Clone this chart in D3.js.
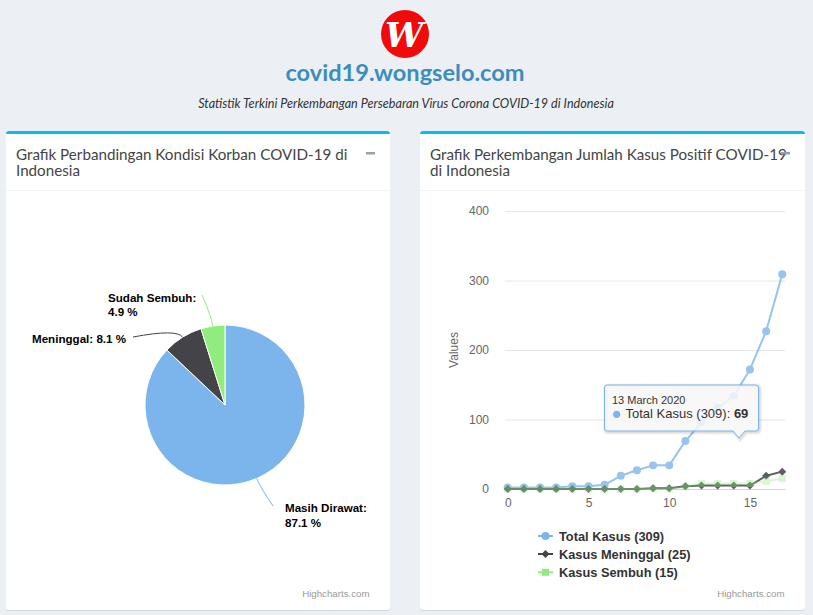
<!DOCTYPE html>
<html><head><meta charset="utf-8">
<script src="https://cdn.jsdelivr.net/npm/d3@7"></script>
<style>
html,body{margin:0;padding:0;background:#ecf0f5;}
svg{display:block;}
</style></head><body>
<svg id="c" width="813" height="615"></svg>
<script>
// ---------- DATA ----------
const dayIndex = [0,1,2,3,4,5,6,7,8,9,10,11,12,13,14,15,16,17];
const dayLabels = ["2 March 2020","3 March 2020","4 March 2020","5 March 2020","6 March 2020","7 March 2020",
  "8 March 2020","9 March 2020","10 March 2020","11 March 2020","12 March 2020","13 March 2020",
  "14 March 2020","15 March 2020","16 March 2020","17 March 2020","18 March 2020","19 March 2020"];
const totalKasus     = [2,2,2,2,4,4,6,19,27,34,34,69,96,117,134,172,227,309];
const kasusMeninggal = [0,0,0,0,0,0,0,0,0,1,1,4,5,5,5,5,19,25];
const kasusSembuh    = [0,0,0,0,0,0,0,0,0,0,0,3,8,8,8,8,11,15];
const seriesNames = ["Total Kasus","Kasus Meninggal","Kasus Sembuh"];
const pieLabels = ["Masih Dirawat","Meninggal","Sudah Sembuh"];
const pieValues = [269,25,15];
const yTicks = [0,100,200,300,400];
const xTicks = [0,5,10,15];
const pageTitle = "covid19.wongselo.com";
const pageSubtitle = "Statistik Terkini Perkembangan Persebaran Virus Corona COVID-19 di Indonesia";
const panelTitles = [["Grafik Perbandingan Kondisi Korban COVID-19 di","Indonesia"],
                     ["Grafik Perkembangan Jumlah Kasus Positif COVID-19","di Indonesia"]];
const yAxisTitle = "Values";
const creditText = "Highcharts.com";
const hoverIndex = 11;

// ---------- DRAWING ----------
const svg = d3.select("#c");
const HC = "'Liberation Sans', Arial, sans-serif";
const colors = ["#7cb5ec","#434348","#90ed7d"];

// header
svg.append("circle").attr("cx",405).attr("cy",34).attr("r",24).attr("fill","#f20a0a");
svg.append("text").attr("x",404).attr("y",47).attr("text-anchor","middle")
  .attr("font-family","'DejaVu Serif', serif").attr("font-style","italic").attr("font-weight","bold")
  .attr("font-size",34).attr("fill","#fff").text("W");
svg.append("text").attr("x",405).attr("y",81).attr("text-anchor","middle")
  .attr("font-family","Lato, sans-serif").attr("font-weight","bold").attr("font-size",23.6)
  .attr("fill","#3c8dbc").text(pageTitle);
svg.append("text").attr("x",406).attr("y",108).attr("text-anchor","middle")
  .attr("font-family","Lato, sans-serif").attr("font-style","italic").attr("font-size",12.6)
  .attr("fill","#333").text(pageSubtitle);

// panels
const defs = svg.append("defs");
function panel(i, x, w){
  const y0 = 131, h = 479;
  defs.append("clipPath").attr("id","pc"+i).append("rect")
    .attr("x",x).attr("y",y0).attr("width",w).attr("height",h).attr("rx",3);
  svg.append("rect").attr("x",x).attr("y",y0+1).attr("width",w).attr("height",h).attr("rx",3)
    .attr("fill","rgba(0,0,0,0.10)");
  const g = svg.append("g").attr("clip-path","url(#pc"+i+")");
  g.append("rect").attr("x",x).attr("y",y0).attr("width",w).attr("height",h).attr("fill","#fff");
  g.append("rect").attr("x",x).attr("y",y0).attr("width",w).attr("height",3).attr("fill","#00c0ef");
  svg.append("line").attr("x1",x).attr("x2",x+w).attr("y1",190.5).attr("y2",190.5)
    .attr("stroke","#f4f4f4");
  const t = svg.append("text").attr("font-family","Lato, sans-serif").attr("font-size",15.2)
    .attr("fill","#444");
  panelTitles[i].forEach((s,k)=>{
    t.append("tspan").attr("x",x+10).attr("y",160+k*16).text(s);
  });
  svg.append("rect").attr("x",x+w-24).attr("y",152).attr("width",9).attr("height",2.5)
    .attr("fill","#97a0b3");
  svg.append("text").attr("x",x+w-20.5).attr("y",597).attr("text-anchor","end")
    .attr("font-family",HC).attr("font-size",9.7).attr("fill","#999").text(creditText);
}
panel(0, 6, 384);
panel(1, 420, 385);

// ---------- PIE ----------
const cx = 225, cy = 405, R = 80;
const total = d3.sum(pieValues);
const arcs = d3.pie().sort(null).value(d=>d)(pieValues);
const arcGen = d3.arc().innerRadius(0).outerRadius(R);
const pg = svg.append("g").attr("transform",`translate(${cx},${cy})`);
pg.selectAll("path.slice").data(arcs).join("path").attr("class","slice")
  .attr("d",arcGen).attr("fill",(d,i)=>colors[i]).attr("stroke","#fff").attr("stroke-width",1)
  .attr("stroke-linejoin","round");

// label placement (layout)
const labelAnchor = [[273-cx,506-cy],[133-cx,337-cy],[202-cx,295-cy]];
const labelLines = [[[285,512.3],[285,526.7]], [[32,343.3]], [[108,301.7],[108,316]]];
arcs.forEach((a,i)=>{
  const m = (a.startAngle+a.endAngle)/2;
  const ex = Math.sin(m)*R, ey = -Math.cos(m)*R;
  const bx = Math.sin(m)*(R+10), by = -Math.cos(m)*(R+10);
  const p = d3.path();
  p.moveTo(labelAnchor[i][0],labelAnchor[i][1]);
  p.quadraticCurveTo(bx,by,ex,ey);
  pg.append("path").attr("d",p.toString()).attr("fill","none")
    .attr("stroke",colors[i]).attr("stroke-width",1);
  const pct = (a.value/total*100).toFixed(1)+" %";
  const lines = labelLines[i].length===2 ? [pieLabels[i]+":", pct] : [pieLabels[i]+": "+pct];
  lines.forEach((s,k)=>{
    svg.append("text").attr("x",labelLines[i][k][0]).attr("y",labelLines[i][k][1])
      .attr("font-family",HC).attr("font-weight","bold").attr("font-size",11.6)
      .attr("fill","#000").attr("stroke","#fff").attr("stroke-width",2)
      .attr("paint-order","stroke").attr("stroke-linejoin","round").text(s);
  });
});

// ---------- LINE CHART ----------
const x = d3.scaleLinear().domain([-0.17,17.17]).range([505,785]);
const y = d3.scaleLinear().domain([0,400]).range([489,211]);

const gy = svg.append("g").attr("transform","translate(505,0)")
  .call(d3.axisLeft(y).tickValues(yTicks).tickSize(-280).tickPadding(16));
gy.select(".domain").remove();
gy.selectAll(".tick line").attr("stroke","#e6e6e6");
gy.selectAll(".tick text").attr("fill","#666").attr("font-family",HC).attr("font-size",12);

const gx = svg.append("g").attr("transform","translate(0,489)")
  .call(d3.axisBottom(x).tickValues(xTicks).tickSize(0).tickSizeOuter(0).tickPadding(9.5));
gx.select(".domain").attr("stroke","#ccd6eb");
gx.selectAll(".tick text").attr("fill","#666").attr("font-family",HC).attr("font-size",12);

svg.append("text").attr("transform","translate(458,350) rotate(-90)").attr("text-anchor","middle")
  .attr("font-family",HC).attr("font-size",12).attr("fill","#666").text(yAxisTitle);

const seriesData = [totalKasus, kasusMeninggal, kasusSembuh];
const seriesOpacity = [0.8, 0.85, 0.35];
const symbols = [d3.symbolCircle, d3.symbolSquare, d3.symbolSquare];
const symSize = [50, 32, 49];
const symRot = [0, 45, 0];
const line = d3.line().x((d,i)=>x(dayIndex[i])).y(d=>y(d));
seriesData.forEach((vals,s)=>{
  const g = svg.append("g").attr("opacity",seriesOpacity[s]);
  g.append("path").attr("d",line(vals)).attr("fill","none").attr("stroke",colors[s])
    .attr("stroke-width",2).attr("stroke-linejoin","round").attr("stroke-linecap","round");
  g.selectAll("path.pt").data(vals).join("path").attr("class","pt")
    .attr("d",d3.symbol().type(symbols[s]).size(symSize[s]))
    .attr("transform",(d,i)=>`translate(${x(dayIndex[i])},${y(d)}) rotate(${symRot[s]})`)
    .attr("fill",colors[s]);
});

// legend
const legendY = [536,554,572.3];
seriesNames.forEach((nm,s)=>{
  const g = svg.append("g").attr("transform",`translate(0,${legendY[s]})`);
  g.append("line").attr("x1",538).attr("x2",553).attr("y1",0).attr("y2",0)
    .attr("stroke",colors[s]).attr("stroke-width",2);
  g.append("path").attr("d",d3.symbol().type(symbols[s]).size(symSize[s]))
    .attr("transform",`translate(545.5,0) rotate(${symRot[s]})`).attr("fill",colors[s]);
  const last = seriesData[s][seriesData[s].length-1];
  g.append("text").attr("x",559).attr("y",4.5).attr("font-family",HC).attr("font-weight","bold")
    .attr("font-size",12.8).attr("fill","#333").text(`${nm} (${last})`);
});

// tooltip
const tp = d3.path();
const L=604.5, T=385, Rr=758.5, B=431, rr=3, tipX=739, tipY=438;
tp.moveTo(L+rr,T); tp.lineTo(Rr-rr,T); tp.quadraticCurveTo(Rr,T,Rr,T+rr);
tp.lineTo(Rr,B-rr); tp.quadraticCurveTo(Rr,B,Rr-rr,B);
tp.lineTo(tipX+6,B); tp.lineTo(tipX,tipY); tp.lineTo(tipX-6,B);
tp.lineTo(L+rr,B); tp.quadraticCurveTo(L,B,L,B-rr); tp.lineTo(L,T+rr); tp.quadraticCurveTo(L,T,L+rr,T);
tp.closePath();
const tg = svg.append("g");
[5,3,1].forEach(w=>{
  tg.append("path").attr("d",tp.toString()).attr("transform","translate(1,1)")
    .attr("fill","none").attr("stroke","rgba(0,0,0,0.05)").attr("stroke-width",w);
});
tg.append("path").attr("d",tp.toString()).attr("fill","rgba(247,247,247,0.85)")
  .attr("stroke",colors[0]).attr("stroke-width",1);
tg.append("text").attr("x",612).attr("y",404).attr("font-family",HC).attr("font-size",11)
  .attr("fill","#333").text(dayLabels[hoverIndex]);
tg.append("circle").attr("cx",616.7).attr("cy",414.3).attr("r",3.6).attr("fill",colors[0]);
const t2 = tg.append("text").attr("x",625.5).attr("y",418.3).attr("font-family",HC)
  .attr("font-size",13).attr("fill","#333");
t2.append("tspan").text(`${seriesNames[0]} (${totalKasus[totalKasus.length-1]}): `);
t2.append("tspan").attr("font-weight","bold").text(totalKasus[hoverIndex]);
</script>
</body></html>
